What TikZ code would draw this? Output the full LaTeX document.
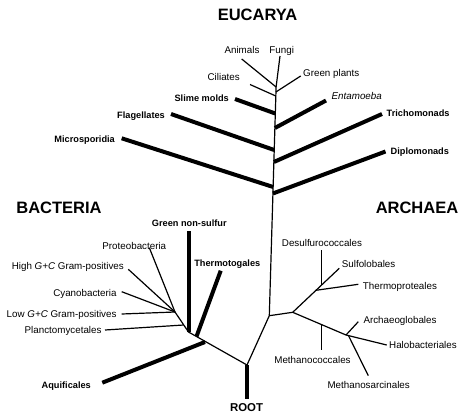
\documentclass[tikz,border=0pt]{standalone}
\usepackage{fontspec}
\setmainfont{Liberation Sans}
\begin{document}
\begin{tikzpicture}[x=1pt, y=-1pt, line join=round,
	br/.style={line width=1.2pt},
	tk/.style={line width=4pt},
	lab/.style={inner sep=0pt, font=\fontsize{9.8}{11}\selectfont},
	blab/.style={inner sep=0pt, font=\fontsize{9.2}{11}\selectfont\bfseries},
	ttl/.style={inner sep=0pt, font=\fontsize{16.5}{18}\selectfont\bfseries}]
			\useasboundingbox (0,0) rectangle (472,418);
			% junctions
			\coordinate (root) at (247,365); \coordinate (rootend) at (247,399);
			\coordinate (trunk) at (269.3,315.7); \coordinate (top) at (276.1,87);
			\coordinate (bAq) at (205,342); \coordinate (bTh) at (196.5,336.5);
			\coordinate (bGn) at (188.5,332); \coordinate (bPl) at (183.6,325);
			\coordinate (fan) at (175,312);
			\coordinate (arc) at (292.7,312.3); \coordinate (arcUp) at (316,290.3);
			\coordinate (bDs) at (321.7,285); \coordinate (arcLo) at (346,335);
			\coordinate (bMc) at (321.7,324.7); \coordinate (bMs) at (348.5,335.6);
			\coordinate (bCi) at (275.8,96); \coordinate (bGp) at (275.9,92);
			\coordinate (bSm) at (275.3,113.5); \coordinate (bEn) at (274.9,128);
			\coordinate (bFl) at (274.2,150); \coordinate (bTr) at (273.9,162);
			\coordinate (bMi) at (273.2,187); \coordinate (bDi) at (272.9,193.5);
			% leaves
			\coordinate (Anim) at (241.7,59); \coordinate (Fung) at (280,56);
			\coordinate (Gpl) at (300.7,76); \coordinate (Cil) at (250,84.5);
			\coordinate (Slm) at (235,99); \coordinate (Ent) at (326,100.5);
			\coordinate (Flg) at (171,114); \coordinate (Tri) at (382,114);
			\coordinate (Mic) at (121.7,138.3); \coordinate (Dip) at (385.5,151.5);
			\coordinate (Gns) at (188.5,230.7); \coordinate (Thg) at (220.7,270.7);
			\coordinate (Pro) at (149.3,247.7); \coordinate (Hgc) at (128.3,269.3);
			\coordinate (Cya) at (121.7,291.7); \coordinate (Lgc) at (121.7,314);
			\coordinate (Pla) at (105,330); \coordinate (Aqu) at (102.3,382.7);
			\coordinate (Des) at (321.7,250); \coordinate (Sul) at (339.3,268.3);
			\coordinate (Tpr) at (358.3,284.3); \coordinate (Arg) at (358.3,321.7);
			\coordinate (Hal) at (386.7,345); \coordinate (Mcc) at (321.7,350);
			\coordinate (Msr) at (368.3,375.7);
			% tree
			\draw[tk] (root)--(rootend);
			\draw[br] (root)--(trunk)--(top);
			\draw[br] (top)--(Anim); \draw[br] (top)--(Fung);
			\draw[br] (bGp)--(Gpl); \draw[br] (bCi)--(Cil);
			\draw[tk] (bSm)--(Slm); \draw[tk] (bEn)--(Ent);
			\draw[tk] (bFl)--(Flg); \draw[tk] (bTr)--(Tri);
			\draw[tk] (bMi)--(Mic); \draw[tk] (bDi)--(Dip);
			\draw[br] (root)--(bGn)--(fan);
			\draw[tk] (bAq)--(Aqu); \draw[tk] (bTh)--(Thg); \draw[tk] (bGn)--(Gns);
			\foreach \p in {Pro,Hgc,Cya,Lgc} \draw[br] (fan)--(\p);
			\draw[br] (bPl)--(Pla);
			\draw[br] (trunk)--(arc)--(arcUp)--(Sul);
			\draw[br] (bDs)--(Des); \draw[br] (arcUp)--(Tpr);
			\draw[br] (arc)--(arcLo)--(Hal);
			\draw[br] (bMc)--(Mcc); \draw[br] (arcLo)--(Arg); \draw[br] (bMs)--(Msr);
			% labels
			\node[ttl] (eucarya) at (257.5,15) {EUCARYA};
			\node[ttl] (bacteria) at (59,207.5) {BACTERIA};
			\node[ttl] (archaea) at (417,207.5) {ARCHAEA};
			\node[ttl, font=\fontsize{11.4}{13}\selectfont\bfseries] (rootlab) at (246.5,408) {ROOT};
			\node[lab, anchor=base] (animals) at (242,53.5) {Animals};
			\node[lab, anchor=base] (fungi) at (281.7,53) {Fungi};
			\node[lab, anchor=base west] (greenpl) at (303,76) {Green plants};
			\node[lab, anchor=base east] (ciliates) at (240,80.5) {Ciliates};
			\node[blab, anchor=base east] (slime) at (229,101.5) {Slime molds};
			\node[lab, anchor=base west] (entam) at (331.5,99.5) {\itshape Entamoeba};
			\node[blab, anchor=base east] (flag) at (165,118) {Flagellates};
			\node[blab, anchor=base west] (trich) at (386.5,116) {Trichomonads};
			\node[blab, anchor=base east] (micro) at (115,142) {Microsporidia};
			\node[blab, anchor=base west] (diplo) at (390.5,154.5) {Diplomonads};
			\node[blab, anchor=base] (greenns) at (189.3,226) {Green non-sulfur};
			\node[lab, anchor=base] (proteo) at (134.3,249) {Proteobacteria};
			\node[blab, anchor=base] (thermot) at (227.3,266.5) {Thermotogales};
			\node[lab, anchor=base east] (highgc) at (124,269.5) {High \textit{G+C} Gram-positives};
			\node[lab, anchor=base east] (cyano) at (116.7,296) {Cyanobacteria};
			\node[lab, anchor=base east] (lowgc) at (116.7,317.5) {Low \textit{G+C} Gram-positives};
			\node[lab, anchor=base east] (plancto) at (101.7,333) {Planctomycetales};
			\node[blab, anchor=base east] (aquif) at (91,388.5) {Aquificales};
			\node[lab, anchor=base] (desulf) at (322,246) {Desulfurococcales};
			\node[lab, anchor=base west] (sulfo) at (341.7,267.5) {Sulfolobales};
			\node[lab, anchor=base west] (thermop) at (362.7,289) {Thermoproteales};
			\node[lab, anchor=base west] (archaeo) at (363.3,323.5) {Archaeoglobales};
			\node[lab, anchor=base west] (halo) at (389,348) {Halobacteriales};
			\node[lab, anchor=base] (methcoc) at (312.5,363) {Methanococcales};
			\node[lab, anchor=base] (methsar) at (368.7,388) {Methanosarcinales};
		\end{tikzpicture}
\end{document}
